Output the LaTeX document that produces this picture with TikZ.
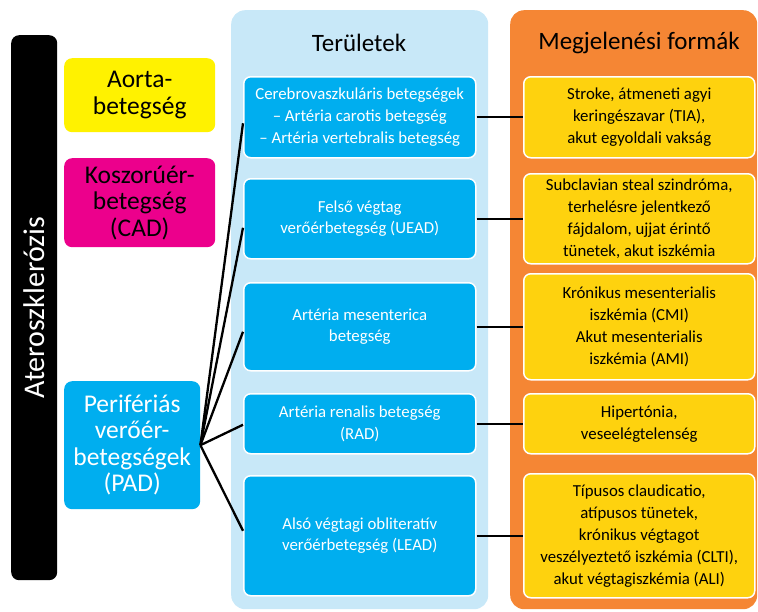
\documentclass[tikz,border=0pt]{standalone}
\usepackage{fontspec}
\setmainfont{Carlito}
\definecolor{aortaY}{HTML}{FFF200}
\definecolor{cadM}{HTML}{EC008C}
\definecolor{cyanB}{HTML}{00AEEF}
\definecolor{panelB}{HTML}{C8E8F8}
\definecolor{panelO}{HTML}{F58634}
\definecolor{formY}{HTML}{FED20E}
\tikzset{
  leftbox/.style={rounded corners=8pt, anchor=north west, inner sep=0pt, align=center,
    font=\fontsize{25.5}{26.5}\selectfont},
  areabox/.style={fill=cyanB, draw=white, line width=1.5pt, rounded corners=7pt, text=white,
    align=center, anchor=north west, inner sep=0pt, minimum width=232pt,
    font=\fontsize{16.8}{21.7}\selectfont},
  formbox/.style={fill=formY, draw=white, line width=1.5pt, rounded corners=7pt, text=black,
    align=center, anchor=north west, inner sep=0pt, minimum width=231pt,
    font=\fontsize{16.8}{22}\selectfont},
  panel/.style={rounded corners=14pt, anchor=north west, inner sep=0pt},
  paneltitle/.style={font=\fontsize{25}{30}\selectfont, text=black},
  link/.style={line width=2.3pt, draw=black},
}
\begin{document}
\begin{tikzpicture}[x=1pt,y=-1pt]
\useasboundingbox (0,0) rectangle (758,611);
% panels
\node[panel, fill=panelB, minimum width=257pt, minimum height=599pt] (areapanel) at (231,10) {};
\node[panel, fill=panelO, minimum width=247pt, minimum height=599pt] (formpanel) at (510,10) {};
\node[paneltitle] (areatitle) at (359,43) {Területek};
\node[paneltitle] (formtitle) at (639,43) {Megjelenési formák};
% left column
\node[rounded corners=8pt, fill=black, anchor=north west, minimum width=46pt, minimum height=545pt] (bar) at (11,35) {};
\node[text=white, rotate=90, font=\fontsize{30}{32}\selectfont] (bartext) at (bar.center) {Ateroszklerózis};
\node[leftbox, fill=aortaY, minimum width=151pt, minimum height=74pt] (aorta) at (64,58) {Aorta-\\betegség};
\node[leftbox, fill=cadM, minimum width=151pt, minimum height=89pt] (cad) at (64,158) {Koszorúér-\\betegség\\(CAD)};
\node[leftbox, fill=cyanB, text=white, minimum width=136pt, minimum height=128pt] (pad) at (64,381) {Perifériás\\verőér-\\betegségek\\(PAD)};
% area boxes
\node[areabox, minimum height=81pt] (b1) at (243,76) {Cerebrovaszkuláris betegségek\\– Artéria carotis betegség\\– Artéria vertebralis betegség};
\node[areabox, minimum height=80pt] (b2) at (243,178) {Felső végtag\\verőérbetegség (UEAD)};
\node[areabox, minimum height=88pt] (b3) at (243,282) {Artéria mesenterica\\betegség};
\node[areabox, minimum height=60pt] (b4) at (243,393) {Artéria renalis betegség\\(RAD)};
\node[areabox, minimum height=120pt] (b5) at (243,475) {Alsó végtagi obliteratív\\verőérbetegség (LEAD)};
% form boxes
\node[formbox, minimum height=81pt] (y1) at (523,76) {Stroke, átmeneti agyi\\keringészavar (TIA),\\akut egyoldali vakság};
\node[formbox, minimum height=90pt] (y2) at (523,173) {Subclavian steal szindróma,\\terhelésre jelentkező\\fájdalom, ujjat érintő\\tünetek, akut iszkémia};
\node[formbox, minimum height=106pt] (y3) at (523,273) {Krónikus mesenterialis\\iszkémia (CMI)\\Akut mesenterialis\\iszkémia (AMI)};
\node[formbox, minimum height=60pt] (y4) at (523,393) {Hipertónia,\\veseelégtelenség};
\node[formbox, minimum height=124pt] (y5) at (523,473) {Típusos claudicatio,\\atípusos tünetek,\\krónikus végtagot\\veszélyeztető iszkémia (CLTI),\\akut végtagiszkémia (ALI)};
% connectors
\draw[link] (pad.east) -- ([yshift=-6pt]b1.west);
\draw[link] (pad.east) -- ([yshift=-9pt]b2.west);
\draw[link] (pad.east) -- ([yshift=-5pt]b3.west);
\draw[link] (pad.east) -- ([yshift=-1pt]b4.west);
\draw[link] (pad.east) -- ([yshift=5pt]b5.west);
\draw[link] (b1.east) -- (y1.west);
\draw[link] (b2.east) -- (y2.west);
\draw[link] (b3.east) -- (y3.west);
\draw[link] (b4.east) -- (y4.west);
\draw[link] (b5.east) -- (y5.west);
\end{tikzpicture}
\end{document}
